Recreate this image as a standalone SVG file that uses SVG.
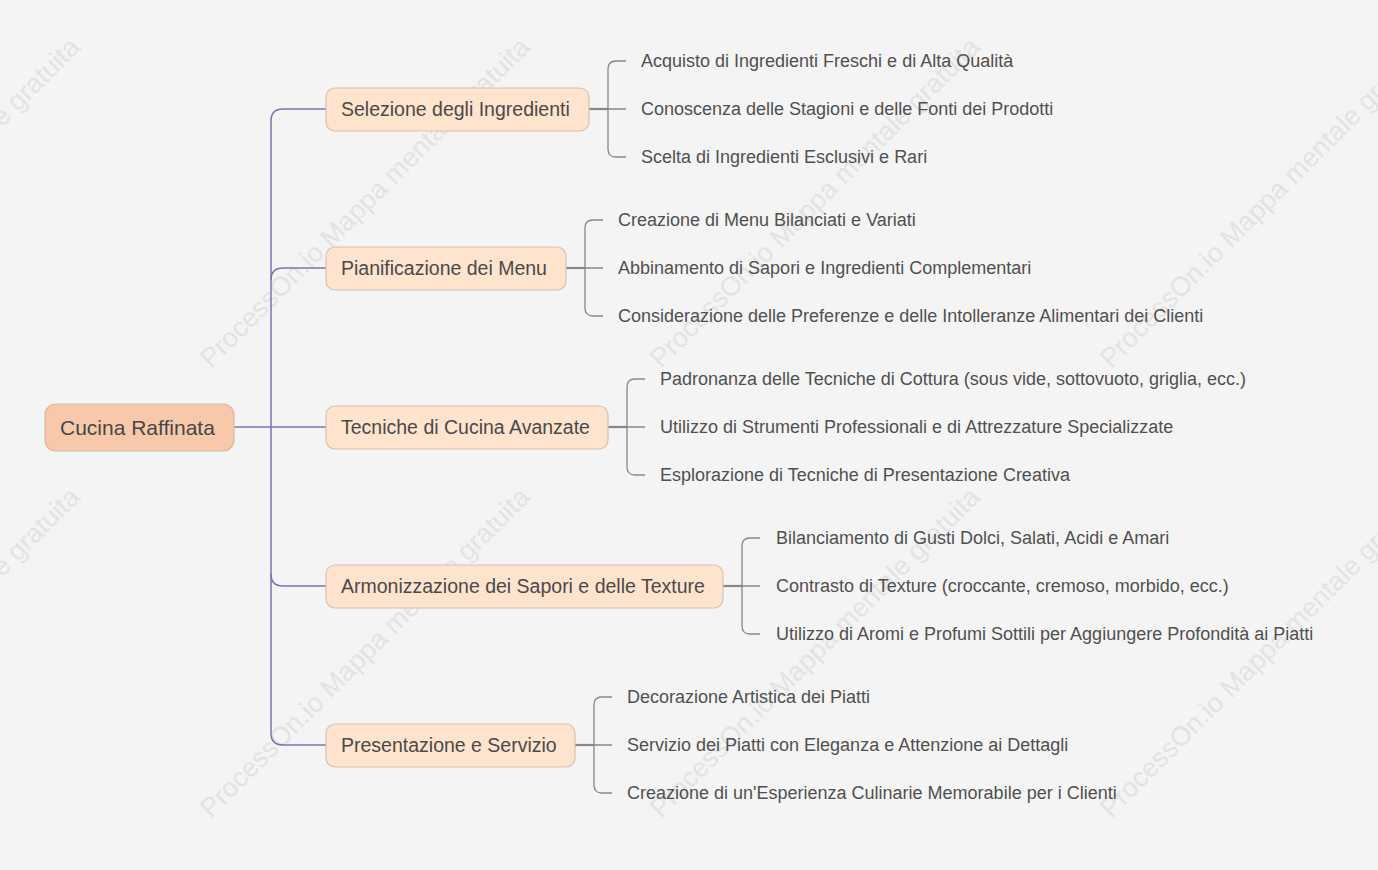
<svg xmlns="http://www.w3.org/2000/svg" width="1378" height="870" viewBox="0 0 1378 870">
<style>
.wm{font-family:"Liberation Sans",Arial,sans-serif;font-size:27px;fill:#e3e3e3}
.root rect{fill:#f7c9aa;stroke:#d8b9a3;stroke-width:1.2}
.root text{font-family:"Liberation Sans",Arial,sans-serif;font-size:21px;fill:#474747}
.l1 rect{fill:#fee3cd;stroke:#d8c0ad;stroke-width:1.2}
.l1 text{font-family:"Liberation Sans",Arial,sans-serif;font-size:19.5px;fill:#4a4a4a}
.leaf text{font-family:"Liberation Sans",Arial,sans-serif;font-size:18px;fill:#505050}
.main{fill:none;stroke:#7b72b6;stroke-width:1.5}
.br{fill:none;stroke:#8a8683;stroke-width:1.3}
.brk{fill:none;stroke:#8a8683;stroke-width:2.2}
</style>
<rect width="1378" height="870" fill="#f4f4f4"/>
<g id="watermarks">
<text class="wm" transform="translate(-239,369) rotate(-45)">ProcessOn.io Mappa mentale gratuita</text>
<text class="wm" transform="translate(211,369) rotate(-45)">ProcessOn.io Mappa mentale gratuita</text>
<text class="wm" transform="translate(661,369) rotate(-45)">ProcessOn.io Mappa mentale gratuita</text>
<text class="wm" transform="translate(1111,369) rotate(-45)">ProcessOn.io Mappa mentale gratuita</text>
<text class="wm" transform="translate(-239,819) rotate(-45)">ProcessOn.io Mappa mentale gratuita</text>
<text class="wm" transform="translate(211,819) rotate(-45)">ProcessOn.io Mappa mentale gratuita</text>
<text class="wm" transform="translate(661,819) rotate(-45)">ProcessOn.io Mappa mentale gratuita</text>
<text class="wm" transform="translate(1111,819) rotate(-45)">ProcessOn.io Mappa mentale gratuita</text>
</g>
<g id="connectors">
<path class="main" d="M234,427 H271" stroke-width="2.5"/>
<path class="main" d="M326,109 H283 Q271,109 271,121 V733 Q271,745 283,745 H326"/>
<path class="main" d="M326,268 H283 Q271,268 271,280"/>
<path class="main" d="M271,427 H326"/>
<path class="main" d="M326,586 H283 Q271,586 271,574"/>
<path class="brk" d="M589,109 H608"/>
<path class="br" d="M626,61 H616 Q608,61 608,69 V149 Q608,157 616,157 H626 M608,109 H626"/>
<path class="brk" d="M566,268 H585"/>
<path class="br" d="M603,220 H593 Q585,220 585,228 V308 Q585,316 593,316 H603 M585,268 H603"/>
<path class="brk" d="M608,427 H627"/>
<path class="br" d="M645,379 H635 Q627,379 627,387 V467 Q627,475 635,475 H645 M627,427 H645"/>
<path class="brk" d="M723,586 H742"/>
<path class="br" d="M760,538 H750 Q742,538 742,546 V626 Q742,634 750,634 H760 M742,586 H760"/>
<path class="brk" d="M575,745 H594"/>
<path class="br" d="M612,697 H602 Q594,697 594,705 V785 Q594,793 602,793 H612 M594,745 H612"/>
</g>
<g id="root" class="root"><rect x="45" y="404" width="189" height="47" rx="11"/><text x="60" y="434.5">Cucina Raffinata</text></g>
<g id="n1" class="l1"><rect x="326" y="88" width="263" height="43" rx="9"/><text x="341" y="115.5">Selezione degli Ingredienti</text></g>
<g id="n2" class="l1"><rect x="326" y="247" width="240" height="43" rx="9"/><text x="341" y="274.5">Pianificazione dei Menu</text></g>
<g id="n3" class="l1"><rect x="326" y="406" width="282" height="43" rx="9"/><text x="341" y="433.5">Tecniche di Cucina Avanzate</text></g>
<g id="n4" class="l1"><rect x="326" y="565" width="397" height="43" rx="9"/><text x="341" y="592.5">Armonizzazione dei Sapori e delle Texture</text></g>
<g id="n5" class="l1"><rect x="326" y="724" width="249" height="43" rx="9"/><text x="341" y="751.5">Presentazione e Servizio</text></g>
<g id="n1-leaves" class="leaf">
<text x="641" y="66.5">Acquisto di Ingredienti Freschi e di Alta Qualità</text>
<text x="641" y="114.5">Conoscenza delle Stagioni e delle Fonti dei Prodotti</text>
<text x="641" y="162.5">Scelta di Ingredienti Esclusivi e Rari</text>
</g>
<g id="n2-leaves" class="leaf">
<text x="618" y="225.5">Creazione di Menu Bilanciati e Variati</text>
<text x="618" y="273.5">Abbinamento di Sapori e Ingredienti Complementari</text>
<text x="618" y="321.5">Considerazione delle Preferenze e delle Intolleranze Alimentari dei Clienti</text>
</g>
<g id="n3-leaves" class="leaf">
<text x="660" y="384.5">Padronanza delle Tecniche di Cottura (sous vide, sottovuoto, griglia, ecc.)</text>
<text x="660" y="432.5">Utilizzo di Strumenti Professionali e di Attrezzature Specializzate</text>
<text x="660" y="480.5">Esplorazione di Tecniche di Presentazione Creativa</text>
</g>
<g id="n4-leaves" class="leaf">
<text x="776" y="543.5">Bilanciamento di Gusti Dolci, Salati, Acidi e Amari</text>
<text x="776" y="591.5">Contrasto di Texture (croccante, cremoso, morbido, ecc.)</text>
<text x="776" y="639.5">Utilizzo di Aromi e Profumi Sottili per Aggiungere Profondità ai Piatti</text>
</g>
<g id="n5-leaves" class="leaf">
<text x="627" y="702.5">Decorazione Artistica dei Piatti</text>
<text x="627" y="750.5">Servizio dei Piatti con Eleganza e Attenzione ai Dettagli</text>
<text x="627" y="798.5">Creazione di un'Esperienza Culinarie Memorabile per i Clienti</text>
</g>
</svg>
